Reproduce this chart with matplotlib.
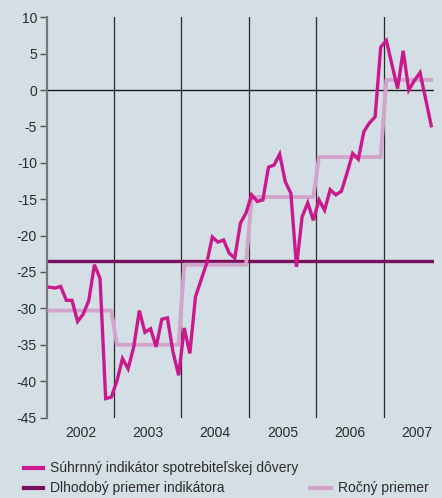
import numpy as np
import matplotlib
matplotlib.use('Agg')
import matplotlib.pyplot as plt
from matplotlib.lines import Line2D

''' Data read from the chart '''

# monthly consumer confidence indicator, Jan 2002 - Sep 2007
indicator_2002 = [-27.1, -27.2, -27.0, -28.9, -28.9, -31.8, -30.8, -28.9, -24.0, -25.9, -42.4, -42.2]
indicator_2003 = [-40.0, -36.9, -38.3, -35.3, -30.3, -33.3, -32.8, -35.3, -31.5, -31.3, -36.0, -39.2]
indicator_2004 = [-32.7, -36.2, -28.4, -26.1, -23.8, -20.2, -20.9, -20.6, -22.4, -23.1, -18.3, -16.9]
indicator_2005 = [-14.4, -15.3, -15.1, -10.6, -10.3, -8.8, -12.6, -14.2, -24.3, -17.4, -15.5, -17.9]
indicator_2006 = [-15.1, -16.5, -13.7, -14.4, -13.9, -11.4, -8.7, -9.5, -5.7, -4.5, -3.7, 5.9]
indicator_2007 = [6.8, 3.5, 0.2, 5.4, 0.0, 1.3, 2.4, -1.2, -4.9]

years = [2002, 2003, 2004, 2005, 2006, 2007]
annual_mean = [-30.3, -35.0, -24.0, -14.7, -9.2, 1.4]  # Ročný priemer
long_term_mean = -23.5                                # Dlhodobý priemer

labels = ['Súhrnný indikátor spotrebiteľskej dôvery',
          'Dlhodobý priemer indikátora',
          'Ročný priemer']

''' Styles '''

BG = '#d4dee5'
MAGENTA = '#c9198c'
LILAC = '#d2a3cb'
PURPLE = '#7a0d5c'
TEXT = '#2b2b2b'

plt.rcParams['font.family'] = ['Liberation Sans', 'DejaVu Sans']
plt.rcParams['axes.unicode_minus'] = False

''' Build series '''

yearly = [indicator_2002, indicator_2003, indicator_2004,
          indicator_2005, indicator_2006, indicator_2007]
indicator = np.concatenate(yearly)
months = np.arange(len(indicator))
x = 2002 + (months + 0.5) / 12

# annual mean repeated for every month of its year -> step line
annual_series = np.repeat(annual_mean, [len(v) for v in yearly])

''' Plot '''

fig = plt.figure(figsize=(4.42, 4.98), dpi=100, facecolor=BG)
ax = fig.add_axes([0.1057, 0.1616, 0.8763, 0.8037], facecolor=BG)

# year separators and zero line
for yr in years[1:]:
    ax.axvline(yr, color='#2a2a2a', linewidth=0.9, zorder=1)
ax.axhline(0, color='#1e1e1e', linewidth=1.0, zorder=1)

ax.axhline(long_term_mean, color=PURPLE, linewidth=2.4, zorder=2)
ax.plot(x, annual_series, color=LILAC, linewidth=2.8, zorder=3)
ax.plot(x, indicator, color=MAGENTA, linewidth=2.4, zorder=4,
        solid_joinstyle='miter')

ax.set_xlim(2002, 2007.75)
ax.set_ylim(-45, 10)

ax.set_yticks(np.arange(-45, 11, 5))
ax.set_yticklabels([str(v) for v in range(-45, 11, 5)])
ax.set_xticks([yr + 0.5 for yr in years])
ax.set_xticklabels([str(yr) for yr in years])

ax.tick_params(axis='y', direction='out', length=5, width=1, color='#555555',
               labelsize=10, labelcolor=TEXT, pad=2)
ax.tick_params(axis='x', length=0, labelsize=10, labelcolor=TEXT, pad=6)

for side in ['top', 'right', 'bottom']:
    ax.spines[side].set_visible(False)
ax.spines['left'].set_color('#777777')
ax.spines['left'].set_linewidth(1.6)

''' Legend drawn by hand '''

W, H = 442.0, 498.0

def fig_xy(px, py):
    return px / W, 1 - py / H

def legend_entry(px0, px1, py, color, text):
    (x0, y0), (x1, _) = fig_xy(px0, py), fig_xy(px1, py)
    fig.add_artist(Line2D([x0, x1], [y0, y0], color=color, linewidth=3.0,
                          transform=fig.transFigure))
    tx, ty = fig_xy(px1 + 7, py)
    fig.text(tx, ty, text, fontsize=10, color=TEXT, va='center', ha='left')

legend_entry(24, 43, 468, MAGENTA, labels[0])
legend_entry(24, 43, 488, PURPLE, labels[1])
legend_entry(310, 331, 488, LILAC, labels[2])

fig.savefig('out.png', dpi=100, facecolor=BG)
